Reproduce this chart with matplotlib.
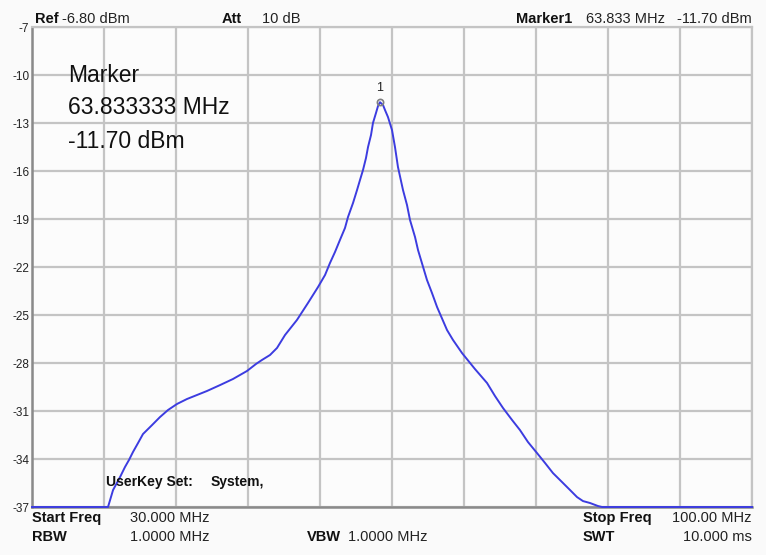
import matplotlib
matplotlib.use("Agg")
import matplotlib.pyplot as plt

plt.rcParams['font.family'] = ['Liberation Sans', 'DejaVu Sans']

# Trace data (MHz, dBm)
freq_mhz = [30.00, 37.39, 37.88, 38.56, 39.04, 39.43, 39.82, 40.31, 40.79, 41.67,
            42.44, 43.22, 44.10, 45.07, 46.04, 47.01, 48.28, 49.54, 50.22, 50.90,
            51.78, 52.36, 53.14, 53.82, 54.60, 55.76, 56.83, 57.81, 58.49, 58.97,
            59.46, 59.94, 60.43, 60.72, 61.21, 61.60, 61.89, 62.18, 62.47, 62.67,
            62.96, 63.15, 63.44, 63.64, 63.833, 64.13, 64.32, 64.61, 65.00, 65.29,
            65.58, 66.07, 66.46, 66.75, 67.24, 67.53, 68.40, 68.89, 69.38, 70.35,
            70.93, 71.81, 73.07, 74.24, 75.01, 75.79, 76.67, 77.44, 78.22, 79.10,
            79.88, 80.65, 81.53, 82.31, 82.99, 83.57, 84.25, 85.03, 85.42, 100.00]
level_dbm = [-37.00, -37.00, -35.94, -35.13, -34.50, -34.06, -33.56, -33.00, -32.44, -31.88,
             -31.38, -30.94, -30.56, -30.25, -30.00, -29.75, -29.38, -29.00, -28.75, -28.50,
             -28.06, -27.81, -27.50, -27.06, -26.25, -25.31, -24.25, -23.25, -22.50, -21.75,
             -21.06, -20.31, -19.56, -18.88, -18.00, -17.19, -16.56, -15.94, -15.19, -14.50,
             -13.75, -13.00, -12.38, -11.94, -11.70, -11.88, -12.19, -12.63, -13.44, -14.50,
             -15.75, -17.19, -18.13, -19.06, -20.13, -20.94, -22.81, -23.63, -24.50, -25.94,
             -26.56, -27.38, -28.38, -29.25, -30.06, -30.81, -31.56, -32.19, -32.94, -33.63,
             -34.25, -34.88, -35.44, -35.94, -36.38, -36.63, -36.75, -36.94, -37.00, -37.00]

marker_freq = 63.833
marker_level = -11.70
y_ticks = [-7, -10, -13, -16, -19, -22, -25, -28, -31, -34, -37]
x_grid = [30, 37, 44, 51, 58, 65, 72, 79, 86, 93, 100]

W, H = 766, 555
fig = plt.figure(figsize=(W / 100, H / 100), dpi=100)
fig.patch.set_facecolor('#fafafa')

def fx(x):
    return x / W

def fy(y):
    return 1 - y / H

ax = fig.add_axes([fx(32), fy(507), fx(752) - fx(32), fy(27) - fy(507)])
ax.set_facecolor('#fcfcfc')
ax.set_xlim(30, 100)
ax.set_ylim(-37, -7)
ax.set_yticks(y_ticks)
ax.set_yticklabels([str(t) for t in y_ticks], fontsize=8.5, color='#222222')
ax.set_xticks(x_grid)
ax.set_xticklabels([])
ax.tick_params(length=0, pad=2)
ax.grid(True, color='#c4c4c4', linewidth=1.6)
ax.set_axisbelow(True)
for s in ['top', 'right']:
    ax.spines[s].set_color('#c4c4c4')
    ax.spines[s].set_linewidth(1.6)
for s in ['left', 'bottom']:
    ax.spines[s].set_color('#8a8a8a')
    ax.spines[s].set_linewidth(1.8)

ax.plot(freq_mhz, level_dbm, color='#3c3ce0', linewidth=1.4, clip_on=False, zorder=3)
ax.plot([marker_freq], [marker_level], marker='o', markersize=4.5, markerfacecolor='none',
        markeredgecolor='#808080', markeredgewidth=1.2, zorder=4)
ax.annotate('1', (marker_freq, marker_level), xytext=(0, 6), textcoords='offset points',
            ha='center', va='bottom', fontsize=9, color='#222222')

# marker readout box
fig.text(fx(68), fy(75), 'Marker', fontsize=16.5, va='center', ha='left', color='#111111')
fig.text(fx(68), fy(108), '63.833333 MHz', fontsize=16.5, va='center', ha='left', color='#111111')
fig.text(fx(68), fy(142), '-11.70 dBm', fontsize=16.5, va='center', ha='left', color='#111111')

# user key text
fig.text(fx(106), fy(482), 'UserKey Set:', fontsize=10, fontweight='bold', va='center', color='#111111')
fig.text(fx(211), fy(482), 'System,', fontsize=10, fontweight='bold', va='center', color='#111111')

# header
hy = fy(19)
fig.text(fx(35), hy, 'Ref', fontsize=10.5, fontweight='bold', va='center', color='#111111')
fig.text(fx(62), hy, '-6.80 dBm', fontsize=10.5, va='center', color='#222222')
fig.text(fx(222), hy, 'Att', fontsize=10.5, fontweight='bold', va='center', color='#111111')
fig.text(fx(262), hy, '10 dB', fontsize=10.5, va='center', color='#222222')
fig.text(fx(516), hy, 'Marker1', fontsize=10.5, fontweight='bold', va='center', color='#111111')
fig.text(fx(586), hy, '63.833 MHz', fontsize=10.5, va='center', color='#222222')
fig.text(fx(752), hy, '-11.70 dBm', fontsize=10.5, va='center', ha='right', color='#222222')

# footer
r1, r2 = fy(518), fy(537)
fig.text(fx(32), r1, 'Start Freq', fontsize=10.5, fontweight='bold', va='center', color='#111111')
fig.text(fx(130), r1, '30.000 MHz', fontsize=10.5, va='center', color='#222222')
fig.text(fx(32), r2, 'RBW', fontsize=10.5, fontweight='bold', va='center', color='#111111')
fig.text(fx(130), r2, '1.0000 MHz', fontsize=10.5, va='center', color='#222222')
fig.text(fx(307), r2, 'VBW', fontsize=10.5, fontweight='bold', va='center', color='#111111')
fig.text(fx(348), r2, '1.0000 MHz', fontsize=10.5, va='center', color='#222222')
fig.text(fx(583), r1, 'Stop Freq', fontsize=10.5, fontweight='bold', va='center', color='#111111')
fig.text(fx(752), r1, '100.00 MHz', fontsize=10.5, va='center', ha='right', color='#222222')
fig.text(fx(583), r2, 'SWT', fontsize=10.5, fontweight='bold', va='center', color='#111111')
fig.text(fx(752), r2, '10.000 ms', fontsize=10.5, va='center', ha='right', color='#222222')

fig.savefig('out.png', dpi=100, facecolor=fig.get_facecolor())
